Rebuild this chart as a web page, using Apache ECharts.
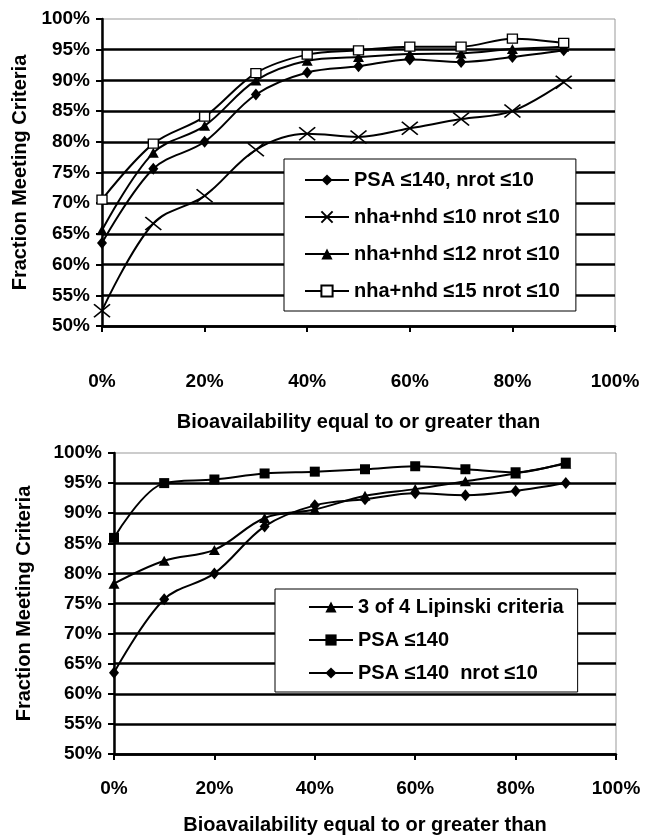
<!DOCTYPE html>
<html><head><meta charset="utf-8">
<script src="https://cdn.jsdelivr.net/npm/echarts@6/dist/echarts.min.js"></script>
<style>html,body{margin:0;padding:0;background:#fff}#c{width:645px;height:838px}</style>
</head><body><div id="c"></div>
<script>
// Bioavailability thresholds (%)
const xPct = [0, 10, 20, 30, 40, 50, 60, 70, 80, 90];
// Top chart series (fraction meeting criteria, %)
const psaNrot = [63.5, 75.6, 80.0, 87.7, 91.3, 92.3, 93.4, 93.0, 93.8, 94.9];
const nha10 = [52.5, 66.7, 71.2, 78.7, 81.3, 80.8, 82.2, 83.7, 85.0, 89.7];
const nha12 = [65.6, 78.2, 82.6, 90.0, 93.2, 93.8, 94.3, 94.4, 95.1, 95.5];
const nha15 = [70.6, 79.7, 84.1, 91.2, 94.2, 94.9, 95.5, 95.5, 96.8, 96.1];
// Bottom chart series
const lipinski = [78.3, 82.1, 83.9, 89.2, 90.6, 92.9, 94.0, 95.3, 96.6, 98.2];
const psa140 = [85.9, 95.0, 95.6, 96.6, 96.9, 97.3, 97.8, 97.3, 96.8, 98.4];
const psaNrotB = [63.5, 75.7, 80.0, 87.8, 91.3, 92.3, 93.3, 93.0, 93.7, 95.0];

const topNames = ['PSA \u2264140, nrot \u226410', 'nha+nhd \u226410 nrot \u226410', 'nha+nhd \u226412 nrot \u226410', 'nha+nhd \u226415 nrot \u226410'];
const botNames = ['3 of 4 Lipinski criteria', 'PSA \u2264140', 'PSA \u2264140  nrot \u226410'];
const xTitle = 'Bioavailability equal to or greater than';
const yTitle = 'Fraction Meeting Criteria';

const FONT = '"Liberation Sans", Arial, sans-serif';
const X_PATH = 'path://M0,0L16,13M16,0L0,13';

function mk(name, vals, idx, symbol, size, style) {
  return {
    type: 'line', name: name, xAxisIndex: idx, yAxisIndex: idx,
    data: xPct.map((x, i) => [x, vals[i]]),
    smooth: 0.35, symbol: symbol, symbolSize: size, showSymbol: true,
    lineStyle: { color: '#000', width: 2 },
    itemStyle: style, emphasis: { disabled: true }, animation: false
  };
}
const filled = { color: '#000', borderWidth: 0 };
const openSq = { color: '#fff', borderColor: '#000', borderWidth: 1.3 };
const xStyle = { color: 'rgba(0,0,0,0)', borderColor: '#000', borderWidth: 1.6 };

const lbl = { fontFamily: FONT, fontWeight: 'bold', fontSize: 19, color: '#000' };

function xAx(idx, margin, gap) {
  return {
    type: 'value', gridIndex: idx, min: 0, max: 100, interval: 20,
    name: xTitle, nameLocation: 'middle', nameGap: gap,
    nameTextStyle: { fontFamily: FONT, fontWeight: 'bold', fontSize: 20, color: '#000' },
    axisLine: { show: true, onZero: false, lineStyle: { color: '#000', width: 2.5 } },
    axisTick: { show: true, length: 6, lineStyle: { color: '#000', width: 2 } },
    axisLabel: Object.assign({ formatter: '{value}%', margin: margin }, lbl),
    splitLine: { show: false }
  };
}
function yAx(idx, gap) {
  return {
    type: 'value', gridIndex: idx, min: 50, max: 100, interval: 5,
    name: yTitle, nameLocation: 'middle', nameGap: gap, nameRotate: 90,
    nameTextStyle: { fontFamily: FONT, fontWeight: 'bold', fontSize: 20, color: '#000' },
    axisLine: { show: true, onZero: false, lineStyle: { color: '#000', width: 2.5 } },
    axisTick: { show: true, length: 6, lineStyle: { color: '#000', width: 2 } },
    axisLabel: Object.assign({ formatter: '{value}%', margin: 12 }, lbl),
    splitLine: { show: true, showMaxLine: false, lineStyle: { color: '#000', width: 2.5 } }
  };
}
function leg(names, left, top, gap, pad) {
  return {
    data: names, orient: 'vertical', left: left, top: top, itemGap: gap,
    itemWidth: 44, itemHeight: 14, padding: pad,
    backgroundColor: '#fff', borderColor: '#000', borderWidth: 1,
    textStyle: { fontFamily: FONT, fontWeight: 'bold', fontSize: 20, color: '#000' },
    selectedMode: false
  };
}

const chart = echarts.init(document.getElementById('c'), null, { renderer: 'canvas' });
chart.setOption({
  animation: false,
  backgroundColor: '#fff',
  grid: [
    { left: 102, top: 19, width: 513, height: 307, show: true, borderColor: '#999', borderWidth: 1 },
    { left: 114, top: 453, width: 502, height: 301, show: true, borderColor: '#999', borderWidth: 1 }
  ],
  xAxis: [xAx(0, 46, 86), xAx(1, 25, 61)],
  yAxis: [yAx(0, 68), yAx(1, 80)],
  legend: [
    leg(topNames, 284, 159, 17, [11, 16, 10, 20]),
    leg(botNames, 275, 589, 13, [8, 14, 9, 33])
  ],
  series: [
    mk(topNames[0], psaNrot, 0, 'diamond', [10, 12], filled),
    mk(topNames[1], nha10, 0, X_PATH, [16, 13], xStyle),
    mk(topNames[2], nha12, 0, 'triangle', [11, 10], filled),
    mk(topNames[3], nha15, 0, 'rect', [10, 9], openSq),
    mk(botNames[0], lipinski, 1, 'triangle', [11, 10], filled),
    mk(botNames[1], psa140, 1, 'rect', [10, 10], filled),
    mk(botNames[2], psaNrotB, 1, 'diamond', [10, 12], filled)
  ]
});
</script></body></html>
